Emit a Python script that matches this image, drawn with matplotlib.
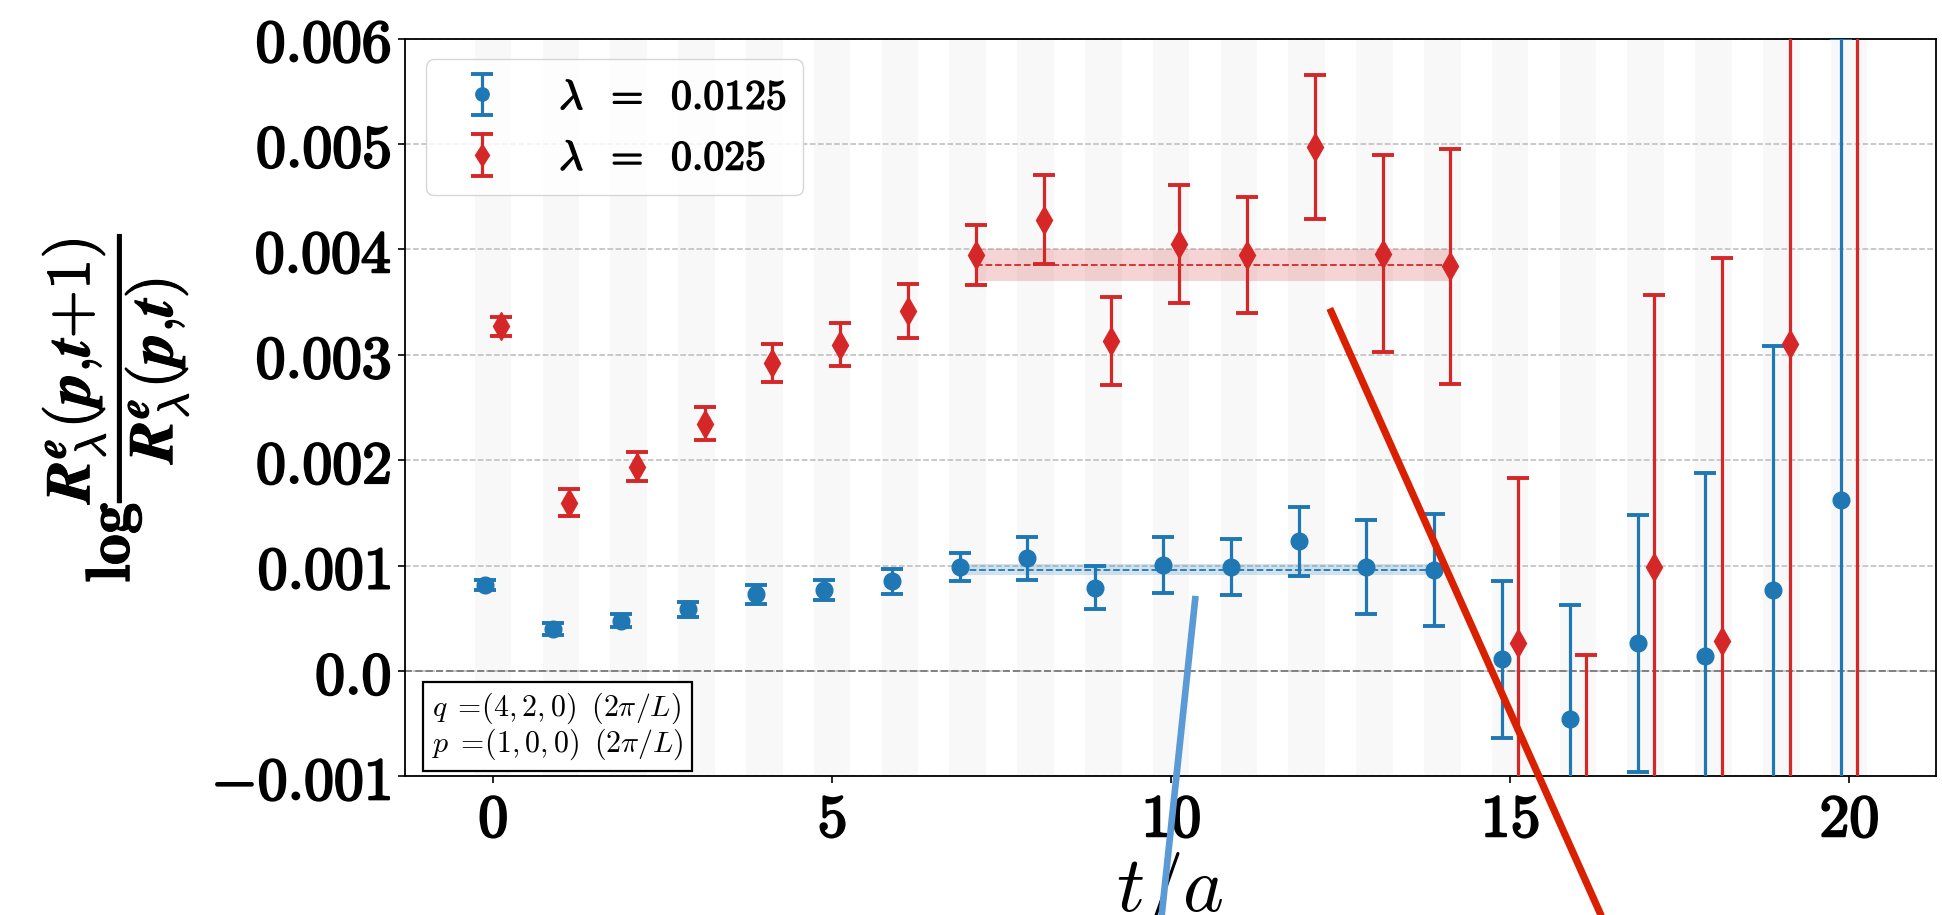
import numpy as np
import matplotlib
matplotlib.use("Agg")
import matplotlib.pyplot as plt
from matplotlib import patheffects as pe

plt.rcParams['mathtext.fontset'] = 'cm'

# time slices
t = np.arange(21)

# lambda = 0.0125 (units of 1e-3)
blue_val = [0.815, 0.40, 0.479, 0.585, 0.727, 0.769, 0.852, 0.985, 1.068, 0.792,
            1.008, 0.990, 1.229, 0.990, 0.962, 0.110, -0.451, 0.262, 0.147, 0.769, 1.621]
blue_err = [0.045, 0.055, 0.065, 0.070, 0.088, 0.098, 0.118, 0.135, 0.200, 0.200,
            0.265, 0.265, 0.327, 0.445, 0.530, 0.741, 1.073, 1.215, 1.731, 2.316, 4.38]

# lambda = 0.025 (units of 1e-3)
red_val = [3.269, 1.598, 1.938, 2.348, 2.919, 3.094, 3.416, 3.946, 4.282, 3.131,
           4.052, 3.946, 4.968, 3.959, 3.840, 0.262, -1.50, 0.985, 0.285, 3.103, 7.0]
red_err = [0.092, 0.125, 0.138, 0.152, 0.180, 0.205, 0.256, 0.283, 0.424, 0.421,
           0.560, 0.553, 0.682, 0.935, 1.114, 1.566, 1.652, 2.578, 3.637, 4.5, 8.5]

# plateau fits
fit_range = [7, 14]
blue_fit, blue_fit_err = 0.962, 0.05
red_fit, red_fit_err = 3.85, 0.15

labels = [r'$\boldsymbol{\lambda}\;\;\mathbf{=}\;\;\mathbf{0.0125}$',
          r'$\boldsymbol{\lambda}\;\;\mathbf{=}\;\;\mathbf{0.025}$']

yticks = [-1, 0, 1, 2, 3, 4, 5, 6]
yticklabels = [r'$\mathbf{-0.001}$', r'$\mathbf{0.0}$', r'$\mathbf{0.001}$', r'$\mathbf{0.002}$',
               r'$\mathbf{0.003}$', r'$\mathbf{0.004}$', r'$\mathbf{0.005}$', r'$\mathbf{0.006}$']
xticks = [0, 5, 10, 15, 20]

# two hand-drawn strokes over the figure (t, value*1e3)
red_stroke_t, red_stroke_v = [12.34, 16.85], [3.44, -3.05]
blue_stroke_t, blue_stroke_v = [10.36, 9.74], [0.713, -3.05]

c_blue = '#1f77b4'
c_red = '#d62728'
dx = 0.12
scale = 1e-3

fig = plt.figure(figsize=(19.42, 9.15), dpi=100)
ax = fig.add_axes([0.2085, 0.1514, 0.7884, 0.8065])

for ti in t:
    ax.axvspan(ti - 0.27, ti + 0.27, color='gray', alpha=0.05, lw=0, zorder=0)

ax.yaxis.grid(True, ls='--', color='#bbbbbb', lw=1.1)
ax.set_axisbelow(True)
ax.axhline(0, color='gray', ls='--', lw=1.4, zorder=1)

tb = t - dx
tr = t + dx
ax.errorbar(tb, np.array(blue_val) * scale, yerr=np.array(blue_err) * scale, fmt='o',
            color=c_blue, ms=12, capsize=8, elinewidth=2.3, capthick=2.8, label=labels[0], zorder=3)
ax.errorbar(tr, np.array(red_val) * scale, yerr=np.array(red_err) * scale, fmt='d',
            color=c_red, ms=14, capsize=8, elinewidth=2.3, capthick=2.8, label=labels[1], zorder=3)

xb = [fit_range[0] - dx, fit_range[1] - dx]
ax.fill_between(xb, (blue_fit - blue_fit_err) * scale, (blue_fit + blue_fit_err) * scale,
                color=c_blue, alpha=0.2, lw=0, zorder=2)
ax.plot(xb, [blue_fit * scale] * 2, '--', color=c_blue, lw=1.3, zorder=2)
xr = [fit_range[0] + dx, fit_range[1] + dx]
ax.fill_between(xr, (red_fit - red_fit_err) * scale, (red_fit + red_fit_err) * scale,
                color=c_red, alpha=0.2, lw=0, zorder=2)
ax.plot(xr, [red_fit * scale] * 2, '--', color=c_red, lw=1.3, zorder=2)

ax.set_xlim(-1.3, 21.28)
ax.set_ylim(-0.001, 0.006)
ax.set_yticks([v * scale for v in yticks])
ax.set_yticklabels(yticklabels, fontsize=43)
ax.set_xticks(xticks)
ax.set_xticklabels([r'$\mathbf{%d}$' % v for v in xticks], fontsize=43)
ax.tick_params(axis='both', length=5, width=1.2, pad=5)
for s in ax.spines.values():
    s.set_linewidth(1.3)

bold = [pe.withStroke(linewidth=1.6, foreground='black')]
for lbl in ax.get_xticklabels() + ax.get_yticklabels():
    lbl.set_path_effects(bold)

ax.set_xlabel(r'$t/a$', fontsize=56)
ax.xaxis.set_label_coords(0.5, -0.1)
ylab = (r'$\mathbf{log}\dfrac{\boldsymbol{R}^{\boldsymbol{e}}_{\boldsymbol{\lambda}}\mathbf{(}\boldsymbol{p}\mathbf{,}\boldsymbol{t}\mathbf{+1)}}'
        r'{\boldsymbol{R}^{\boldsymbol{e}}_{\boldsymbol{\lambda}}\mathbf{(}\boldsymbol{p}\mathbf{,}\boldsymbol{t}\mathbf{)}}$')
ax.set_ylabel(ylab, fontsize=45)
ax.yaxis.set_label_coords(-0.14, 0.5)
ax.yaxis.label.set_path_effects([pe.withStroke(linewidth=0.8, foreground='black')])

leg = ax.legend(loc='upper left', fontsize=30, handlelength=1.9, handletextpad=0.9,
                borderpad=0.4, labelspacing=0.45, markerscale=0.8)
leg.get_frame().set_edgecolor('#cccccc')
for txt in leg.get_texts():
    txt.set_path_effects([pe.withStroke(linewidth=1.1, foreground='black')])

ax.text(0.0175, 0.02, r'$q\;=\!(4,2,0)\;\;(2\pi/L)$' + '\n' + r'$p\;=\!(1,0,0)\;\;(2\pi/L)$',
        transform=ax.transAxes, fontsize=21.5, ha='left', va='bottom', linespacing=1.0,
        bbox=dict(boxstyle='square,pad=0.3', fc='white', ec='black', lw=1.6), zorder=5)

ax.plot(np.array(red_stroke_t), np.array(red_stroke_v) * scale, color='#d92000', lw=5.2,
        clip_on=False, solid_capstyle='butt', zorder=6)
ax.plot(np.array(blue_stroke_t), np.array(blue_stroke_v) * scale, color='#5b9bd5', lw=4.8,
        clip_on=False, solid_capstyle='butt', zorder=6)

fig.savefig('out.png', dpi=100)
